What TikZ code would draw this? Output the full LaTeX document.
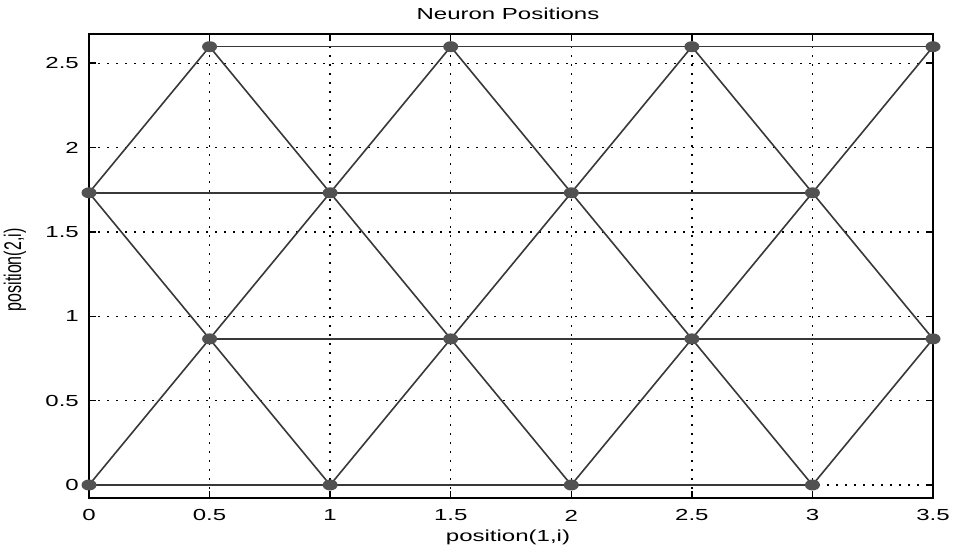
\documentclass[tikz,border=0pt]{standalone}
\usepackage{fontspec}
\setmainfont[FakeStretch=1.5]{Liberation Sans}
\newfontfamily\ylfont{Liberation Sans}
\usetikzlibrary{shapes.geometric}
\pgfdeclarelayer{bglayer}
\pgfdeclarelayer{gridlayer}
\pgfdeclarelayer{edgelayer}
\pgfsetlayers{bglayer,gridlayer,edgelayer,main}
\definecolor{edgecol}{HTML}{383838}
\definecolor{dotcol}{HTML}{525252}
\tikzset{
  neuron/.style={ellipse, fill=dotcol, draw=none, minimum width=15bp, minimum height=11bp, inner sep=0pt},
  link/.style={draw=edgecol, line width=1.6bp},
  gridline/.style={draw=black, line width=1.4bp, dash pattern=on 1.6bp off 7.4bp},
  axisbox/.style={draw=black, line width=1.8bp},
  tickmark/.style={draw=black, line width=1.5bp},
  lbl/.style={font=\fontsize{16bp}{18bp}\selectfont, inner sep=0pt},
}
\begin{document}
\begin{tikzpicture}[x=1bp,y=1bp]
\begin{pgfonlayer}{bglayer}
  \fill[white] (0,0) rectangle (955,555);
\end{pgfonlayer}
\useasboundingbox (0,0) rectangle (955,555);
\begin{scope}[shift={(89bp,70bp)}, x=241.14bp, y=168.7bp]
  % grid
  \begin{pgfonlayer}{gridlayer}
    \foreach \gx in {0.5,1,1.5,2,2.5,3}
      \draw[gridline] (\gx,-0.077) -- (\gx,2.673);
    \foreach \gy in {0,0.5,1,1.5,2,2.5}
      \draw[gridline] (0,\gy) -- (3.5,\gy);
  \end{pgfonlayer}
  % axis box
  \coordinate (bl) at (0,-0.077);
  \coordinate (tr) at (3.5,2.673);
  \draw[axisbox] (bl) rectangle (tr);
  % ticks and labels
  \foreach \tx/\tl in {0/0,0.5/0.5,1/1,1.5/1.5,2/2,2.5/2.5,3/3,3.5/3.5} {
    \draw[tickmark] (\tx,-0.077) -- ++(0,7bp);
    \draw[tickmark] (\tx,2.673) -- ++(0,-7bp);
    \node[lbl] (xt\tl) at (\tx,-0.077) [yshift=-17.5bp] {\tl};
  }
  \foreach \ty/\tl in {0/0,0.5/0.5,1/1,1.5/1.5,2/2,2.5/2.5} {
    \draw[tickmark] (0,\ty) -- ++(7bp,0);
    \draw[tickmark] (3.5,\ty) -- ++(-7bp,0);
    \node[lbl, anchor=east] (yt\tl) at (0,\ty) [xshift=-10bp] {\tl};
  }
  % neurons
  \foreach \i/\xx in {0/0,1/1,2/2,3/3} {
    \node[neuron] (a\i) at (\xx,0) {};
    \node[neuron] (c\i) at (\xx,1.7320508) {};
  }
  \foreach \i/\xx in {0/0.5,1/1.5,2/2.5,3/3.5} {
    \node[neuron] (b\i) at (\xx,0.8660254) {};
    \node[neuron] (d\i) at (\xx,2.5980762) {};
  }
  % links
  \begin{pgfonlayer}{edgelayer}
    \foreach \r in {a,b,c,d}
      \draw[link] (\r0.center) -- (\r1.center) -- (\r2.center) -- (\r3.center);
    \foreach \p/\q in {a0/b0,a1/b0,a1/b1,a2/b1,a2/b2,a3/b2,a3/b3,
                       b0/c0,b0/c1,b1/c1,b1/c2,b2/c2,b2/c3,b3/c3,
                       c0/d0,c1/d0,c1/d1,c2/d1,c2/d2,c3/d2,c3/d3}
      \draw[link] (\p.center) -- (\q.center);
  \end{pgfonlayer}
\end{scope}
\node[lbl] (title) at (508,541.5) {Neuron Positions};
\node[lbl] (xlabel) at (508,18) {position(1,i)};
\node[lbl, rotate=90] (ylabel) at (15,285) {\ylfont\scalebox{1}[1.5]{position(2,i)}};
\end{tikzpicture}
\end{document}
